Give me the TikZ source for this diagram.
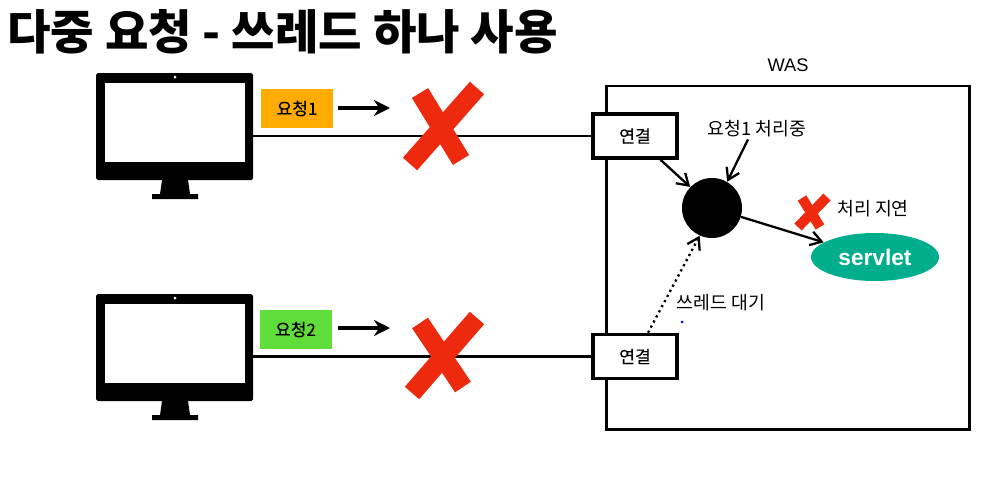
\documentclass[tikz,border=0pt]{standalone}
\usepackage{fontspec}
\setmainfont{Noto Sans CJK KR}
\newfontfamily\latinfont{Liberation Sans}
\newfontfamily\medfont[FakeBold=0.25]{Noto Sans CJK KR}
\usepackage{xcolor}
\usetikzlibrary{shapes.geometric, arrows.meta}

\definecolor{tagorange}{HTML}{FFAB00}
\definecolor{taggreen}{HTML}{5FDD3A}
\definecolor{crossred}{HTML}{EE2A0E}
\definecolor{servletgreen}{HTML}{00AE8E}

\tikzset{
  monitor/.style={fill=black, rounded corners=1pt, minimum width=3.14cm, minimum height=2.14cm, inner sep=0},
  screen/.style={fill=white, minimum width=2.8cm, minimum height=1.58cm, inner sep=0},
  tag/.style={minimum width=1.44cm, minimum height=0.78cm, inner sep=0, font=\medfont\fontsize{9.7}{12}\selectfont},
  conn/.style={draw, line width=2pt, fill=white, minimum width=1.68cm, minimum height=0.88cm, inner sep=0, font=\medfont\fontsize{9.8}{12}\selectfont},
  note/.style={inner sep=1pt, font=\fontsize{10.4}{12}\selectfont},
  flow/.style={line width=1.3pt, -{Straight Barb[length=2.2mm,width=2.8mm]}},
  push/.style={line width=1.8pt, -{Stealth[length=3.2mm,width=3.2mm]}},
  bigcross/.style={line width=0.38cm, crossred},
  smallcross/.style={line width=0.2cm, crossred}
}

\begin{document}
\begin{tikzpicture}

\useasboundingbox (0,0) rectangle (20.06,9.8);

\node[anchor=west, inner sep=0, font=\fontsize{26.9}{30}\selectfont\bfseries] (title) at (0.14,9.16) {다중 요청 - 쓰레드 하나 사용};

% was box
\node[draw, line width=1.7pt, minimum width=7.25cm, minimum height=6.86cm, inner sep=0] (was) at (15.76,4.65) {};
\node[inner sep=0, font=\medfont\fontsize{10.4}{12}\selectfont] (waslabel) at (15.76,8.5) {\latinfont WAS};

\node[conn] (conn1) at (12.7,7.08) {연결};
\node[conn] (conn2) at (12.7,2.67) {연결};

% first monitor
\fill (3.24,6.2)--(3.76,6.2)--(3.8,5.92)--(3.96,5.92)--(3.96,5.82)--(3.04,5.82)--(3.04,5.92)--(3.2,5.92);
\node[monitor] (pc1) at (3.49,7.27) {};
\node[screen] (screen1) at (3.5,7.35) {};
\fill[white] (3.5,8.26) circle(0.03 cm);

% second monitor
\begin{scope}[yshift=-4.42 cm]
\fill (3.24,6.2)--(3.76,6.2)--(3.8,5.92)--(3.96,5.92)--(3.96,5.82)--(3.04,5.82)--(3.04,5.92)--(3.2,5.92);
\node[monitor] (pc2) at (3.49,7.27) {};
\node[screen] (screen2) at (3.5,7.35) {};
\fill[white] (3.5,8.26) circle(0.03 cm);
\end{scope}

\draw[line width=1.3pt] (pc1.east |- conn1.west) -- (conn1.west);
\draw[line width=1.3pt] (pc2.east |- conn2.west) -- (conn2.west);

\node[tag, fill=tagorange] (req1) at (5.94,7.63) {요청1};
\node[tag, fill=taggreen] (req2) at (5.91,3.21) {요청2};

\coordinate (go1) at (6.76,7.64);
\coordinate (go1end) at (7.8,7.64);
\coordinate (go2) at (6.76,3.24);
\coordinate (go2end) at (7.8,3.24);
\draw[push] (go1) -- (go1end);
\draw[push] (go2) -- (go2end);

% red crosses
\draw[bigcross] (9.54,8.04)--(8.2,6.52);
\draw[bigcross] (8.4,7.94)--(9.22,6.6);

\begin{scope}[yshift=-4.56 cm]
\draw[bigcross] (9.54,8.0)--(8.24,6.5);
\draw[bigcross] (8.4,7.9)--(9.26,6.62);
\end{scope}

\draw[smallcross] (16.54,5.86)--(15.96,5.26);
\draw[smallcross] (16.04,5.84)--(16.4,5.26);

% inside was
\node[circle, fill=black, minimum size=1.2cm, inner sep=0] (worker) at (14.24,5.64) {};
\node[ellipse, fill=servletgreen, text=white, minimum width=2.56cm, minimum height=0.96cm, inner sep=0, font=\latinfont\bfseries\fontsize{12.9}{14}\selectfont] (servlet) at (17.5,4.66) {servlet};

\node[note] (busy) at (15.14,7.22) {요청1 처리중};
\node[note] (delay) at (17.46,5.62) {처리 지연};
\node[note] (waiting) at (14.42,3.74) {쓰레드 대기};

\fill[blue] (13.64,3.36) circle(0.03 cm);

\draw[flow] (conn1.-43) -- (worker.136);
\draw[flow] ([xshift=-0.18cm]busy.south) -- (worker.60);
\draw[flow] (worker.-17) -- (servlet.164);
\draw[flow, dotted] ([xshift=0.26cm]conn2.north) -- (worker.246);

\end{tikzpicture}
\end{document}
